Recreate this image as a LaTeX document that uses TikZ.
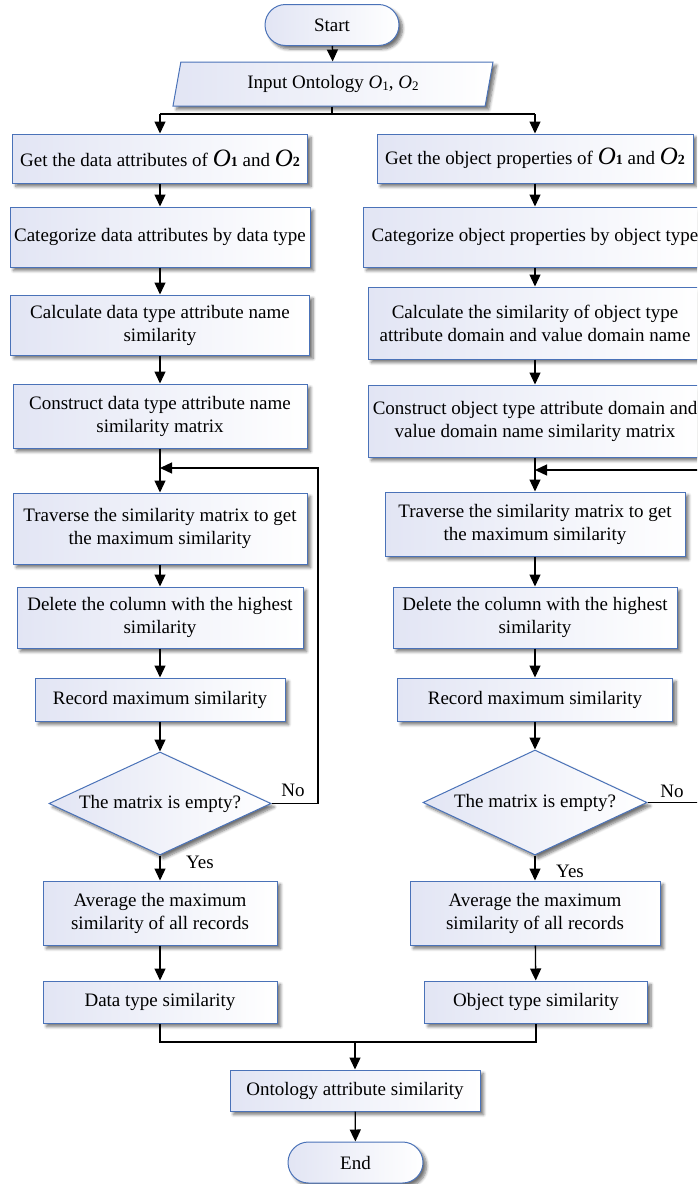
\documentclass[tikz,border=0pt]{standalone}
\usepackage{fontspec}
\setmainfont{Liberation Serif}
\usetikzlibrary{arrows.meta,shapes.geometric,shapes.misc,shadows.blur}

\definecolor{edgeblue}{HTML}{4A72B8}
\definecolor{fillblue}{HTML}{E2E5F4}

% ontology symbols
\newcommand{\onto}[1]{\textit{O}{\fontsize{13}{13}\selectfont\raisebox{-1.5pt}{#1}}}
\newcommand{\ontobig}[1]{{\fontsize{25}{25}\selectfont\textit{O}}{\fontsize{14}{14}\selectfont\bfseries #1}}

\tikzset{
  base/.style={draw=edgeblue, line width=1pt, left color=fillblue, right color=white,
    inner sep=0pt, align=center, font=\fontsize{19}{23}\selectfont,
    blur shadow={shadow xshift=3.5pt, shadow yshift=-3.5pt, shadow blur steps=6,
      shadow blur radius=3pt, shadow opacity=55}},
  procbox/.style={base, rectangle},
  termbox/.style={base, rounded rectangle},
  iobox/.style={base, trapezium, trapezium left angle=65.6, trapezium right angle=114.4,
    trapezium stretches body},
  decbox/.style={base, diamond},
  flow/.style={line width=1.3pt, -{Triangle[length=12pt,width=11pt]}},
  plain/.style={line width=1.3pt},
  lbl/.style={font=\fontsize{19}{23}\selectfont, inner sep=0pt},
}

\begin{document}
\begin{tikzpicture}[x=1pt,y=-1pt]
\useasboundingbox (0,0) rectangle (697,1184);
\clip (0,0) rectangle (697,1184);

% start and input
\node[termbox, minimum width=134pt, minimum height=41pt] (start) at (332,25) {Start};
\node[iobox, minimum width=320pt, minimum height=44pt] (input) at (333,84) {Input Ontology \onto{1}, \onto{2}};

% left branch: data attributes
\node[procbox, minimum width=295pt, minimum height=49pt] (l1) at (160,158.5) {Get the data attributes of \ontobig{1} and \ontobig{2}};
\node[procbox, minimum width=300pt, minimum height=60pt] (l2) at (160,237) {Categorize data attributes by data type};
\node[procbox, minimum width=299pt, minimum height=60pt] (l3) at (160,325) {Calculate data type attribute name\\similarity};
\node[procbox, minimum width=294pt, minimum height=64pt] (l4) at (160,416) {Construct data type attribute name\\similarity matrix};
\node[procbox, minimum width=294pt, minimum height=71pt] (l5) at (160,528.5) {Traverse the similarity matrix to get\\the maximum similarity};
\node[procbox, minimum width=286pt, minimum height=61pt] (l6) at (160,617.5) {Delete the column with the highest\\similarity};
\node[procbox, minimum width=250pt, minimum height=43pt] (l7) at (160,699.5) {Record maximum similarity};
\node[decbox, minimum width=222pt, minimum height=103pt] (ld) at (160,803.5) {\makebox[0pt]{The matrix is empty?}};
\node[procbox, minimum width=234pt, minimum height=64pt] (l9) at (160,913) {Average the maximum\\similarity of all records};
\node[procbox, minimum width=234pt, minimum height=42pt] (l10) at (160,1002) {Data type similarity};

% right branch: object properties
\node[procbox, minimum width=316pt, minimum height=49pt] (r1) at (535,158.5) {Get the object properties of \ontobig{1} and \ontobig{2}};
\node[procbox, minimum width=344pt, minimum height=60pt] (r2) at (535,237) {Categorize object properties by object type};
\node[procbox, minimum width=334pt, minimum height=72pt] (r3) at (535,323) {Calculate the similarity of object type\\attribute domain and value domain name};
\node[procbox, minimum width=334pt, minimum height=72pt] (r4) at (535,421) {Construct object type attribute domain and\\value domain name similarity matrix};
\node[procbox, minimum width=300pt, minimum height=64pt] (r5) at (535,524) {Traverse the similarity matrix to get\\the maximum similarity};
\node[procbox, minimum width=284pt, minimum height=61pt] (r6) at (535,617.5) {Delete the column with the highest\\similarity};
\node[procbox, minimum width=275pt, minimum height=43pt] (r7) at (535,699.5) {Record maximum similarity};
\node[decbox, minimum width=224pt, minimum height=105pt] (rd) at (535,802.5) {\makebox[0pt]{The matrix is empty?}};
\node[procbox, minimum width=250pt, minimum height=64pt] (r9) at (535,913) {Average the maximum\\similarity of all records};
\node[procbox, minimum width=223pt, minimum height=42pt] (r10) at (536,1002) {Object type similarity};

% merge and end
\node[procbox, minimum width=250pt, minimum height=41pt] (ont) at (355,1090.5) {Ontology attribute similarity};
\node[termbox, minimum width=135pt, minimum height=41pt] (end) at (355.5,1162.5) {End};

% junction points
\coordinate (split) at (332,114);
\coordinate (splitl) at (160,114);
\coordinate (splitr) at (535,114);
\coordinate (loopl) at (160,468);
\coordinate (loopr) at (535,470);
\coordinate (merge) at (355,1042);

% connectors
\draw[flow] (start) -- (input);
\draw[plain] (input.south -| split) -- (split);
\draw[plain] (splitl) -- (splitr);
\draw[flow] (splitl) -- (l1);
\draw[flow] (splitr) -- (r1);

\draw[flow] (l1) -- (l2);
\draw[flow] (l2) -- (l3);
\draw[flow] (l3) -- (l4);
\draw[flow] (l4) -- (l5);
\draw[flow] (l5) -- (l6);
\draw[flow] (l6) -- (l7);
\draw[flow] (l7) -- (ld);
\draw[flow] (ld) -- (l9);
\draw[flow] (l9) -- (l10);
\draw[flow] (ld.east) -- (318,803.5) -- (318,468) -- (loopl);

\draw[flow] (r1) -- (r2);
\draw[flow] (r2) -- (r3);
\draw[flow] (r3) -- (r4);
\draw[flow] (r4) -- (r5);
\draw[flow] (r5) -- (r6);
\draw[flow] (r6) -- (r7);
\draw[flow] (r7) -- (rd);
\draw[flow] (rd) -- (r9);
\draw[flow] (r9) -- (r10);
\draw[flow] (rd.east) -- (705,802.5) -- (705,470) -- (loopr);

\draw[plain] (l10.south) -- (l10.south |- merge) -- (r10.south |- merge) -- (r10.south);
\draw[flow] (merge) -- (ont);
\draw[flow] (ont) -- (end);

% branch labels
\node[lbl] at (293,790) {No};
\node[lbl] at (200,862) {Yes};
\node[lbl] at (672,791) {No};
\node[lbl] at (570,871) {Yes};
\end{tikzpicture}
\end{document}
